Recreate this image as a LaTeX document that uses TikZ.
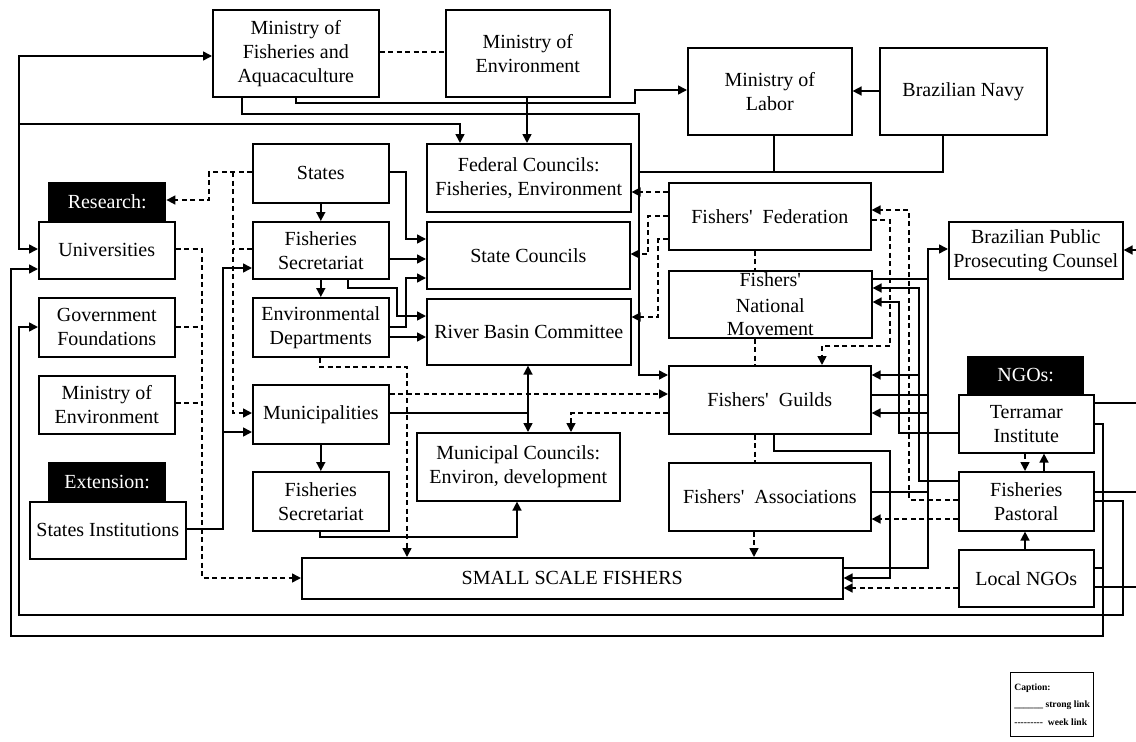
\documentclass[tikz,border=0pt]{standalone}
\usepackage{fontspec}
\setmainfont{Liberation Serif}[Ligatures=TeXOff]
\usetikzlibrary{arrows.meta}
\begin{document}
\begin{tikzpicture}[x=1pt,y=-1pt,
  box/.style={draw, line width=1.6pt, align=center, inner sep=0pt, anchor=north west, font=\fontsize{20}{24}\selectfont},
  blk/.style={fill=black, text=white, inner sep=0pt, anchor=north west, font=\fontsize{20}{24}\selectfont},
  ln/.style={line width=1.6pt},
  arr/.style={ln, -{Triangle[length=9pt,width=9pt]}},
  darr/.style={ln, {Triangle[length=9pt,width=9pt]}-{Triangle[length=9pt,width=9pt]}},
  dsh/.style={dash pattern=on 5pt off 3.5pt},
]
\useasboundingbox (0,0) rectangle (1136,742);
% ---------- nodes ----------
\node[box, minimum width=166pt, minimum height=87pt] (MFA) at (212,9) {Ministry of\\Fisheries and\\Aquacaculture};
\node[box, minimum width=164pt, minimum height=87pt] (ME1) at (445,9) {Ministry of\\Environment};
\node[box, minimum width=164pt, minimum height=87pt] (Labor) at (687,47) {Ministry of\\Labor};
\node[box, minimum width=167pt, minimum height=87pt] (Navy) at (879,47) {Brazilian Navy};
\node[box, minimum width=204pt, minimum height=68pt] (FC) at (426,143) {Federal Councils:\\Fisheries, Environment};
\node[box, minimum width=136pt, minimum height=59pt] (States) at (252,143) {States};
\node[blk, minimum width=118pt, minimum height=39pt] (Research) at (48,182) {Research:};
\node[box, minimum width=136pt, minimum height=57pt] (Univ) at (38,221) {Universities};
\node[box, minimum width=136pt, minimum height=57pt] (FS1) at (252,221) {Fisheries\\Secretariat};
\node[box, minimum width=203pt, minimum height=67pt] (SC) at (426,221) {State Councils};
\node[box, minimum width=204pt, minimum height=66pt] (RBC) at (426,298) {River Basin Committee};
\node[box, minimum width=202pt, minimum height=67pt] (FF) at (668,182) {Fishers'\ \ Federation};
\node[box, minimum width=203pt, minimum height=67pt, font=\fontsize{20}{23.5}\selectfont] (FNM) at (668,270) {\raisebox{2pt}{Fishers'}\\National\\Movement};
\node[box, minimum width=174pt, minimum height=57pt] (BPPC) at (948,221) {Brazilian Public\\Prosecuting Counsel};
\node[box, minimum width=136pt, minimum height=59pt] (GF) at (38,297) {Government\\Foundations};
\node[box, minimum width=136pt, minimum height=59pt] (ED) at (252,297) {Environmental\\Departments};
\node[box, minimum width=136pt, minimum height=58pt] (ME2) at (38,375) {Ministry of\\Environment};
\node[box, minimum width=136pt, minimum height=59pt] (Mun) at (252,384) {Municipalities};
\node[box, minimum width=202pt, minimum height=68pt] (Guilds) at (668,365) {Fishers'\ \ Guilds};
\node[blk, minimum width=117pt, minimum height=38pt] (NGOs) at (967,356) {NGOs:};
\node[box, minimum width=135pt, minimum height=58pt] (Terramar) at (958,394) {Terramar\\Institute};
\node[box, minimum width=203pt, minimum height=68pt] (MC) at (416,432) {Municipal Councils:\\Environ, development};
\node[blk, minimum width=118pt, minimum height=39pt] (Extension) at (48,462) {Extension:};
\node[box, minimum width=156pt, minimum height=57pt] (SI) at (29,501) {States Institutions};
\node[box, minimum width=136pt, minimum height=59pt] (FS2) at (252,471) {Fisheries\\Secretariat};
\node[box, minimum width=202pt, minimum height=68pt] (FA) at (668,462) {Fishers'\ \ Associations};
\node[box, minimum width=135pt, minimum height=59pt] (FP) at (958,471) {Fisheries\\Pastoral};
\node[box, minimum width=541pt, minimum height=41pt] (SSF) at (301,557) {SMALL SCALE FISHERS};
\node[box, minimum width=135pt, minimum height=57pt] (LNGO) at (958,549) {Local NGOs};
\node[box, line width=1.2pt, minimum width=83pt, minimum height=64pt, align=left, inner sep=3pt,
  font=\fontsize{9.6}{17.5}\bfseries\selectfont] (Cap) at (1010,672)
  {Caption:\\\_\_\_\_\_\_\ strong link\\---------\ \ week link};
% free-end coordinates
\coordinate (jL) at (19,124);
\coordinate (edgeR) at (1136,0);
% ---------- top ----------
\draw[ln, dsh] (MFA.east |- 0,52) -- (ME1.west |- 0,52);
\draw[arr] (Navy.west |- 0,91) -- (Labor.east |- 0,91);
\draw[arr] (296,0 |- MFA.south) -- (296,103) -- (635,103) -- (635,90) -- (Labor.west |- 0,90);
\draw[arr] (242,0 |- MFA.south) -- (242,114) -- (639,114) -- (639,375) -- (Guilds.west |- 0,375);
\draw[ln] (774,0 |- Labor.south) -- (774,172) -- (639,172);
\draw[ln] (943,0 |- Navy.south) -- (943,172) -- (774,172);
\draw[arr] (527,0 |- ME1.south) -- (527,0 |- FC.north);
\draw[arr] (jL) -- (19,56) -- (MFA.west |- 0,56);
\draw[arr] (jL) -- (19,249) -- (Univ.west |- 0,249);
\draw[arr] (jL) -- (460,124) -- (460,0 |- FC.north);
% ---------- outer loops ----------
\draw[arr] (Terramar.east |- 0,424) -- (1103,424) -- (1103,636) -- (11,636) -- (11,269) -- (Univ.west |- 0,269);
\draw[ln] (LNGO.east |- 0,568) -- (1103,568);
\draw[arr] (FP.east |- 0,501) -- (1123,501) -- (1123,615) -- (19,615) -- (19,327) -- (GF.west |- 0,327);
\draw[ln] (Terramar.east |- 0,403) -- (edgeR |- 0,403);
\draw[ln] (FP.east |- 0,492) -- (edgeR |- 0,492);
\draw[ln] (LNGO.east |- 0,587) -- (edgeR |- 0,587);
\draw[arr] (edgeR |- 0,250) -- (BPPC.east |- 0,250);
% ---------- fishers column ----------
\draw[arr, dsh] (FF.west |- 0,192) -- (FC.east |- 0,192);
\draw[arr, dsh] (FF.west |- 0,216) -- (648,216) -- (648,254) -- (SC.east |- 0,254);
\draw[arr, dsh] (FF.west |- 0,239) -- (658,239) -- (658,317) -- (RBC.east |- 0,317);
\draw[ln, dsh] (755,0 |- FF.south) -- (755,0 |- FNM.north);
\draw[ln, dsh] (755,0 |- FNM.south) -- (755,0 |- Guilds.north);
\draw[ln, dsh] (755,0 |- Guilds.south) -- (755,0 |- FA.north);
\draw[arr, dsh] (754,0 |- FA.south) -- (754,0 |- SSF.north);
\draw[arr, dsh] (FF.east |- 0,220) -- (890,220) -- (890,346) -- (822,346) -- (822,0 |- Guilds.north);
\draw[arr, dsh] (FP.west |- 0,500) -- (909,500) -- (909,210) -- (FF.east |- 0,210);
\draw[arr] (FP.west |- 0,481) -- (919,481) -- (919,288) -- (FNM.east |- 0,288);
\draw[arr] (919,375) -- (Guilds.east |- 0,375);
\draw[arr] (Terramar.west |- 0,433) -- (899,433) -- (899,302) -- (FNM.east |- 0,302);
\draw[ln] (FNM.east |- 0,279) -- (928,279);
\draw[arr] (SSF.east |- 0,568) -- (928,568) -- (928,249) -- (BPPC.west |- 0,249);
\draw[ln] (Guilds.east |- 0,395) -- (928,395);
\draw[ln] (FA.east |- 0,492) -- (928,492);
\draw[arr] (928,413) -- (Guilds.east |- 0,413);
\draw[arr, dsh] (FP.west |- 0,519) -- (FA.east |- 0,519);
\draw[arr, dsh] (LNGO.west |- 0,588) -- (SSF.east |- 0,588);
\draw[arr] (774,0 |- Guilds.south) -- (774,451) -- (890,451) -- (890,578) -- (SSF.east |- 0,578);
\draw[arr, dsh] (1025,0 |- Terramar.south) -- (1025,0 |- FP.north);
\draw[arr] (1044,0 |- FP.north) -- (1044,0 |- Terramar.south);
\draw[arr] (1025,0 |- LNGO.north) -- (1025,0 |- FP.south);
% ---------- government column ----------
\draw[arr] (States.south) -- (FS1.north);
\draw[arr] (FS1.south) -- (ED.north);
\draw[arr] (Mun.south) -- (FS2.north);
\draw[arr] (States.east |- 0,172) -- (406,172) -- (406,239) -- (SC.west |- 0,239);
\draw[arr] (FS1.east |- 0,259) -- (SC.west |- 0,259);
\draw[arr] (348,0 |- FS1.south) -- (348,288) -- (397,288) -- (397,316) -- (RBC.west |- 0,316);
\draw[arr] (ED.east |- 0,327) -- (406,327) -- (406,278) -- (SC.west |- 0,278);
\draw[arr] (ED.east |- 0,337) -- (RBC.west |- 0,337);
\draw[darr] (528,0 |- RBC.south) -- (528,0 |- MC.north);
\draw[ln] (Mun.east |- 0,413) -- (528,413);
\draw[arr, dsh] (Mun.east |- 0,394) -- (Guilds.west |- 0,394);
\draw[arr, dsh] (Guilds.west |- 0,413) -- (571,413) -- (571,0 |- MC.north);
\draw[arr] (320,0 |- FS2.south) -- (320,537) -- (517,537) -- (517,0 |- MC.south);
\draw[arr, dsh] (320,0 |- ED.south) -- (320,367) -- (407,367) -- (407,0 |- SSF.north);
\draw[arr, dsh] (States.west |- 0,172) -- (209,172) -- (209,200) -- (Research.east |- 0,200);
\draw[arr, dsh] (233,172) -- (233,413) -- (Mun.west |- 0,413);
\draw[ln, dsh] (FS1.west |- 0,249) -- (233,249);
\draw[arr] (SI.east |- 0,529) -- (223,529) -- (223,268) -- (FS1.west |- 0,268);
\draw[arr] (223,432) -- (Mun.west |- 0,432);
\draw[arr, dsh] (Univ.east |- 0,249) -- (202,249) -- (202,578) -- (SSF.west |- 0,578);
\draw[ln, dsh] (GF.east |- 0,327) -- (202,327);
\draw[ln, dsh] (ME2.east |- 0,403) -- (202,403);
\end{tikzpicture}
\end{document}
